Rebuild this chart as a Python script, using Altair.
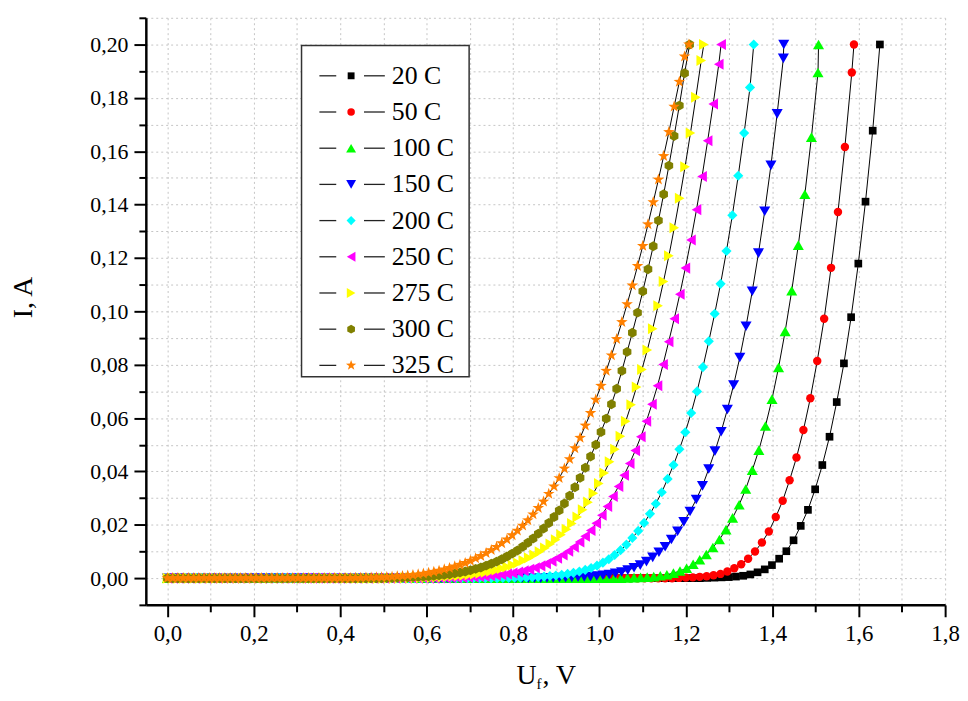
import altair as alt
import pandas as pd

# ---------------- data ----------------
SERIES = ["20 C", "50 C", "100 C", "150 C", "200 C", "250 C", "275 C", "300 C", "325 C"]
COLORS = ["#000000", "#ff0000", "#00ff00", "#0000ff", "#00ffff",
          "#ff00ff", "#ffff00", "#808000", "#ff8000"]
HEXAGON = "M0,-1L0.866,-0.5L0.866,0.5L0,1L-0.866,0.5L-0.866,-0.5Z"
STAR = ("M0,-1L0.235,-0.324L0.951,-0.309L0.380,0.124L0.588,0.809L0,0.4"
        "L-0.588,0.809L-0.380,0.124L-0.951,-0.309L-0.235,-0.324Z")
SHAPES = ["square", "circle", "triangle-up", "triangle-down", "diamond",
          "triangle-left", "triangle-right", HEXAGON, STAR]
MARKER_AREA = [60, 72, 125, 125, 105, 125, 125, 100, 150]

# voltage step of each sweep (V) and the voltage at which the 0.2 A limit was hit
U_STEP = [0.016657, 0.0160, 0.01521, 0.0144, 0.01362, 0.01289, 0.01248, 0.01209, 0.01209]
U_LIMIT = [None, 1.589, 1.507, 1.4265, 1.357, 1.2815, 1.2415, 1.2086, 1.207]
I_LIMIT = 0.2

I_20C = [
    0, 0, 0, 0, 0, 0, 0, 0, 0, 0,
    0, 0, 0, 0, 0, 0, 0, 0, 0, 0,
    0, 0, 0, 0, 0, 0, 0, 0, 0, 0,
    0, 0, 0, 0, 0, 0, 0, 0, 0, 0,
    0, 0, 0, 0, 0, 0, 0, 0, 0, 0,
    0, 0, 0, 0, 0, 0, 0, 0, 0, 0,
    0, 0, 0, 0, 0, 0, 0, 0, 0, 0,
    0, 0, 0, 0, 0, 0.0001, 0.0002, 0.0003, 0.0004, 0.0006,
    0.0009, 0.0014, 0.0022, 0.0033, 0.0049, 0.0073, 0.0101, 0.0142, 0.0196, 0.0256,
    0.0333, 0.0424, 0.0530, 0.0660, 0.0805, 0.0978, 0.1179, 0.1411, 0.1677, 0.2000,
]
I_50C = [
    0, 0, 0, 0, 0, 0, 0, 0, 0, 0,
    0, 0, 0, 0, 0, 0, 0, 0, 0, 0,
    0, 0, 0, 0, 0, 0, 0, 0, 0, 0,
    0, 0, 0, 0, 0, 0, 0, 0, 0, 0,
    0, 0, 0, 0, 0, 0, 0, 0, 0, 0,
    0, 0, 0, 0, 0, 0, 0, 0, 0, 0,
    0, 0, 0, 0, 0, 0, 0, 0, 0, 0,
    0, 0, 0, 0, 0.0001, 0.0002, 0.0003, 0.0005, 0.0007, 0.0011,
    0.0016, 0.0025, 0.0037, 0.0052, 0.0073, 0.0100, 0.0134, 0.0175, 0.0229, 0.0290,
    0.0367, 0.0452, 0.0555, 0.0674, 0.0814, 0.0972, 0.1163, 0.1372, 0.1616, 0.1895,
]
I_100C = [
    0, 0, 0, 0, 0, 0, 0, 0, 0, 0,
    0, 0, 0, 0, 0, 0, 0, 0, 0, 0,
    0, 0, 0, 0, 0, 0, 0, 0, 0, 0,
    0, 0, 0, 0, 0, 0, 0, 0, 0, 0,
    0, 0, 0, 0, 0, 0, 0, 0, 0, 0,
    0, 0, 0, 0, 0, 0, 0, 0, 0, 0,
    0, 0, 0, 0, 0, 0, 0, 0, 0, 0,
    0.0001, 0.0002, 0.0003, 0.0004, 0.0006, 0.0009, 0.0013, 0.0019, 0.0027, 0.0037,
    0.0052, 0.0069, 0.0089, 0.0115, 0.0145, 0.0182, 0.0226, 0.0275, 0.0334, 0.0405,
    0.0480, 0.0570, 0.0671, 0.0790, 0.0925, 0.1077, 0.1248, 0.1439, 0.1653, 0.1895,
]
I_150C = [
    0, 0, 0, 0, 0, 0, 0, 0, 0, 0,
    0, 0, 0, 0, 0, 0, 0, 0, 0, 0,
    0, 0, 0, 0, 0, 0, 0, 0, 0, 0,
    0, 0, 0, 0, 0, 0, 0, 0, 0, 0,
    0, 0, 0, 0, 0, 0, 0, 0, 0, 0,
    0, 0, 0, 0, 0, 0, 0, 0, 0, 0,
    0, 0.0001, 0.0001, 0.0002, 0.0002, 0.0003, 0.0004, 0.0005, 0.0006, 0.0008,
    0.0011, 0.0014, 0.0018, 0.0023, 0.0030, 0.0039, 0.0049, 0.0062, 0.0078, 0.0097,
    0.0118, 0.0145, 0.0176, 0.0211, 0.0250, 0.0295, 0.0346, 0.0409, 0.0476, 0.0549,
    0.0632, 0.0724, 0.0827, 0.0944, 0.1075, 0.1218, 0.1375, 0.1547, 0.1740, 0.1948,
]
I_200C = [
    0, 0, 0, 0, 0, 0, 0, 0, 0, 0,
    0, 0, 0, 0, 0, 0, 0, 0, 0, 0,
    0, 0, 0, 0, 0, 0, 0, 0, 0, 0,
    0, 0, 0, 0, 0, 0, 0, 0, 0, 0,
    0, 0, 0, 0, 0, 0, 0, 0, 0, 0,
    0, 0, 0, 0, 0, 0, 0, 0.0001, 0.0001, 0.0002,
    0.0002, 0.0003, 0.0004, 0.0005, 0.0006, 0.0008, 0.0010, 0.0013, 0.0016, 0.0020,
    0.0025, 0.0031, 0.0038, 0.0047, 0.0058, 0.0071, 0.0087, 0.0105, 0.0126, 0.0151,
    0.0177, 0.0207, 0.0241, 0.0279, 0.0322, 0.0372, 0.0424, 0.0483, 0.0547, 0.0619,
    0.0700, 0.0791, 0.0888, 0.0991, 0.1103, 0.1226, 0.1360, 0.1508, 0.1668, 0.1839,
]
I_250C = [
    0, 0, 0, 0, 0, 0, 0, 0, 0, 0,
    0, 0, 0, 0, 0, 0, 0, 0, 0, 0,
    0, 0, 0, 0, 0, 0, 0, 0, 0, 0,
    0, 0, 0, 0, 0, 0, 0, 0, 0, 0,
    0, 0, 0, 0, 0, 0, 0, 0, 0, 0.0001,
    0.0001, 0.0002, 0.0002, 0.0003, 0.0004, 0.0005, 0.0006, 0.0007, 0.0009, 0.0011,
    0.0013, 0.0016, 0.0019, 0.0023, 0.0028, 0.0033, 0.0039, 0.0046, 0.0054, 0.0064,
    0.0075, 0.0087, 0.0101, 0.0117, 0.0136, 0.0157, 0.0179, 0.0206, 0.0236, 0.0269,
    0.0306, 0.0344, 0.0386, 0.0430, 0.0478, 0.0530, 0.0588, 0.0652, 0.0721, 0.0801,
    0.0886, 0.0972, 0.1064, 0.1162, 0.1267, 0.1381, 0.1505, 0.1639, 0.1777, 0.1926,
]
I_275C = [
    0, 0, 0, 0, 0, 0, 0, 0, 0, 0,
    0, 0, 0, 0, 0, 0, 0, 0, 0, 0,
    0, 0, 0, 0, 0, 0, 0, 0, 0, 0,
    0, 0, 0, 0, 0, 0, 0, 0, 0, 0,
    0, 0, 0, 0, 0.0001, 0.0001, 0.0002, 0.0002, 0.0003, 0.0003,
    0.0004, 0.0005, 0.0006, 0.0008, 0.0009, 0.0011, 0.0013, 0.0016, 0.0019, 0.0022,
    0.0026, 0.0031, 0.0036, 0.0042, 0.0049, 0.0057, 0.0066, 0.0076, 0.0087, 0.0099,
    0.0113, 0.0128, 0.0144, 0.0163, 0.0183, 0.0205, 0.0229, 0.0256, 0.0285, 0.0318,
    0.0355, 0.0394, 0.0436, 0.0483, 0.0532, 0.0588, 0.0650, 0.0716, 0.0782, 0.0855,
    0.0935, 0.1021, 0.1112, 0.1208, 0.1313, 0.1424, 0.1542, 0.1668, 0.1802, 0.1940,
]
I_300C = [
    0, 0, 0, 0, 0, 0, 0, 0, 0, 0,
    0, 0, 0, 0, 0, 0, 0, 0, 0, 0,
    0, 0, 0, 0, 0, 0, 0, 0, 0, 0,
    0, 0, 0, 0, 0, 0, 0, 0, 0, 0,
    0, 0, 0.0001, 0.0001, 0.0002, 0.0002, 0.0003, 0.0004, 0.0005, 0.0006,
    0.0007, 0.0009, 0.0011, 0.0013, 0.0015, 0.0018, 0.0021, 0.0025, 0.0030, 0.0035,
    0.0040, 0.0047, 0.0054, 0.0062, 0.0071, 0.0081, 0.0092, 0.0104, 0.0118, 0.0133,
    0.0149, 0.0167, 0.0186, 0.0207, 0.0229, 0.0254, 0.0280, 0.0309, 0.0341, 0.0376,
    0.0414, 0.0456, 0.0500, 0.0548, 0.0598, 0.0652, 0.0710, 0.0777, 0.0848, 0.0920,
    0.0995, 0.1075, 0.1158, 0.1244, 0.1340, 0.1439, 0.1546, 0.1657, 0.1771, 0.1892,
]
I_325C = [
    0, 0, 0, 0, 0, 0, 0, 0, 0, 0,
    0, 0, 0, 0, 0, 0, 0, 0, 0, 0,
    0, 0, 0, 0, 0, 0, 0, 0, 0, 0,
    0, 0, 0, 0, 0, 0, 0.0001, 0.0001, 0.0002, 0.0002,
    0.0003, 0.0003, 0.0004, 0.0005, 0.0007, 0.0008, 0.0010, 0.0012, 0.0014, 0.0017,
    0.0020, 0.0024, 0.0028, 0.0033, 0.0038, 0.0044, 0.0050, 0.0057, 0.0065, 0.0074,
    0.0083, 0.0094, 0.0105, 0.0117, 0.0131, 0.0145, 0.0161, 0.0178, 0.0197, 0.0217,
    0.0239, 0.0263, 0.0287, 0.0316, 0.0344, 0.0375, 0.0411, 0.0446, 0.0487, 0.0526,
    0.0572, 0.0619, 0.0669, 0.0721, 0.0777, 0.0835, 0.0896, 0.0960, 0.1027, 0.1097,
    0.1170, 0.1245, 0.1326, 0.1409, 0.1494, 0.1582, 0.1672, 0.1767, 0.1860, 0.1955,
]
I_SERIES = [I_20C, I_50C, I_100C, I_150C, I_200C, I_250C, I_275C, I_300C, I_325C]

X_TICKS = [0.0, 0.1, 0.2, 0.3, 0.4, 0.5, 0.6, 0.7, 0.8, 0.9,
           1.0, 1.1, 1.2, 1.3, 1.4, 1.5, 1.6, 1.7, 1.8]
Y_TICKS = [-0.01, 0.0, 0.01, 0.02, 0.03, 0.04, 0.05, 0.06, 0.07, 0.08, 0.09, 0.10,
           0.11, 0.12, 0.13, 0.14, 0.15, 0.16, 0.17, 0.18, 0.19, 0.20, 0.21]

# ---------------- table ----------------
rows = []
for k, name in enumerate(SERIES):
    vals = I_SERIES[k]
    for n, v in enumerate(vals):
        rows.append({"series": name, "k": k, "n": n, "U": round(n * U_STEP[k], 5),
                     "I": v, "sz": MARKER_AREA[k]})
    if U_LIMIT[k] is not None:
        rows.append({"series": name, "k": k, "n": len(vals), "U": U_LIMIT[k],
                     "I": I_LIMIT, "sz": MARKER_AREA[k]})
df = pd.DataFrame(rows)

FONT = "Liberation Serif"
W, H = 806, 592

X_MAJOR = "abs(datum.value*5 - round(datum.value*5)) < 0.001"
Y_MAJOR = "abs(datum.value*50 - round(datum.value*50)) < 0.001"

x_axis = alt.Axis(
    values=X_TICKS,
    labelExpr=f"({X_MAJOR}) ? replace(format(datum.value, '.1f'), '.', ',') : ''",
    title=None, grid=True, gridColor="#c4c4c4", gridDash=[2, 3], gridWidth=1,
    domainColor="black", domainWidth=2.5, tickColor="black", tickWidth=2,
    tickSize={"condition": {"test": X_MAJOR, "value": 12}, "value": 7},
    labelFont=FONT, labelFontSize=23, labelColor="black", labelPadding=6,
    labelFlush=False, labelOverlap=False,
)
y_axis = alt.Axis(
    values=Y_TICKS,
    labelExpr=f"({Y_MAJOR}) ? replace(format(datum.value, '.2f'), '.', ',') : ''",
    title=None, grid=True, gridColor="#c4c4c4", gridDash=[2, 3], gridWidth=1,
    domainColor="black", domainWidth=2.5, tickColor="black", tickWidth=2,
    tickSize={"condition": {"test": Y_MAJOR, "value": 12}, "value": 7},
    labelFont=FONT, labelFontSize=22, labelColor="black", labelPadding=6,
    labelOverlap=False,
)

xenc = alt.X("U:Q", scale=alt.Scale(domain=[-0.05, 1.8], nice=False, zero=False), axis=x_axis)
yenc = alt.Y("I:Q", scale=alt.Scale(domain=[-0.01, 0.21], nice=False, zero=False), axis=y_axis)
color = alt.Color("series:N", scale=alt.Scale(domain=SERIES, range=COLORS), legend=None)
shape = alt.Shape("series:N", scale=alt.Scale(domain=SERIES, range=SHAPES), legend=None)
size = alt.Size("sz:Q", scale=None, legend=None)

lines = alt.Chart(df).mark_line(color="black", strokeWidth=1).encode(
    x=xenc, y=yenc, detail="series:N", order="n:Q")
points = alt.Chart(df).mark_point(filled=True, opacity=1, strokeWidth=0).encode(
    x=xenc, y=yenc, color=color, shape=shape, size=size, order="k:Q")

# ---------------- legend (drawn by hand) ----------------
leg = pd.DataFrame({"series": SERIES, "row": list(range(len(SERIES))),
                    "sz": [a * 0.8 for a in MARKER_AREA]})
leg["ly"] = 58.5 + 36.5 * leg["row"]
ly = alt.Y("ly:Q", scale=None)

box = alt.Chart(pd.DataFrame({"a": [0]})).mark_rect(
    fill="white", stroke="#333333", strokeWidth=1.5).encode(
    x=alt.value(157), x2=alt.value(326), y=alt.value(28), y2=alt.value(362))
leg_l = alt.Chart(leg).mark_rule(color="#222222", strokeWidth=1.3).encode(
    x=alt.value(175), x2=alt.value(192), y=ly)
leg_r = alt.Chart(leg).mark_rule(color="#222222", strokeWidth=1.3).encode(
    x=alt.value(220), x2=alt.value(241), y=ly)
leg_p = alt.Chart(leg).mark_point(filled=True, opacity=1, strokeWidth=0).encode(
    x=alt.value(207), y=ly, color=color, shape=shape, size=size)
leg_t = alt.Chart(leg).mark_text(
    align="left", baseline="middle", font=FONT, fontSize=26, color="black").encode(
    x=alt.value(248), y=ly, text="series:N")

# ---------------- axis titles ----------------
one = pd.DataFrame({"a": [0]})
y_title = alt.Chart(one).mark_text(
    angle=270, font=FONT, fontSize=28, color="black", baseline="middle").encode(
    x=alt.value(-123), y=alt.value(282), text=alt.value("I, A"))
x_title_u = alt.Chart(one).mark_text(
    align="right", baseline="middle", font=FONT, fontSize=28, color="black").encode(
    x=alt.value(394), y=alt.value(664), text=alt.value("U"))
x_title_f = alt.Chart(one).mark_text(
    align="left", baseline="middle", font=FONT, fontSize=15, color="black").encode(
    x=alt.value(394), y=alt.value(672), text=alt.value("f"))
x_title_v = alt.Chart(one).mark_text(
    align="left", baseline="middle", font=FONT, fontSize=28, color="black").encode(
    x=alt.value(400), y=alt.value(664), text=alt.value(", V"))

chart = alt.layer(
    lines, points, box, leg_l, leg_r, leg_p, leg_t,
    y_title, x_title_u, x_title_f, x_title_v,
).properties(
    width=W, height=H,
    autosize=alt.AutoSizeParams(type="none"),
    padding={"left": 139, "top": 7, "right": 15, "bottom": 86},
    background="white",
).configure_view(strokeWidth=0)

chart.save("out.html", embed_options={"renderer": "svg", "actions": False})
